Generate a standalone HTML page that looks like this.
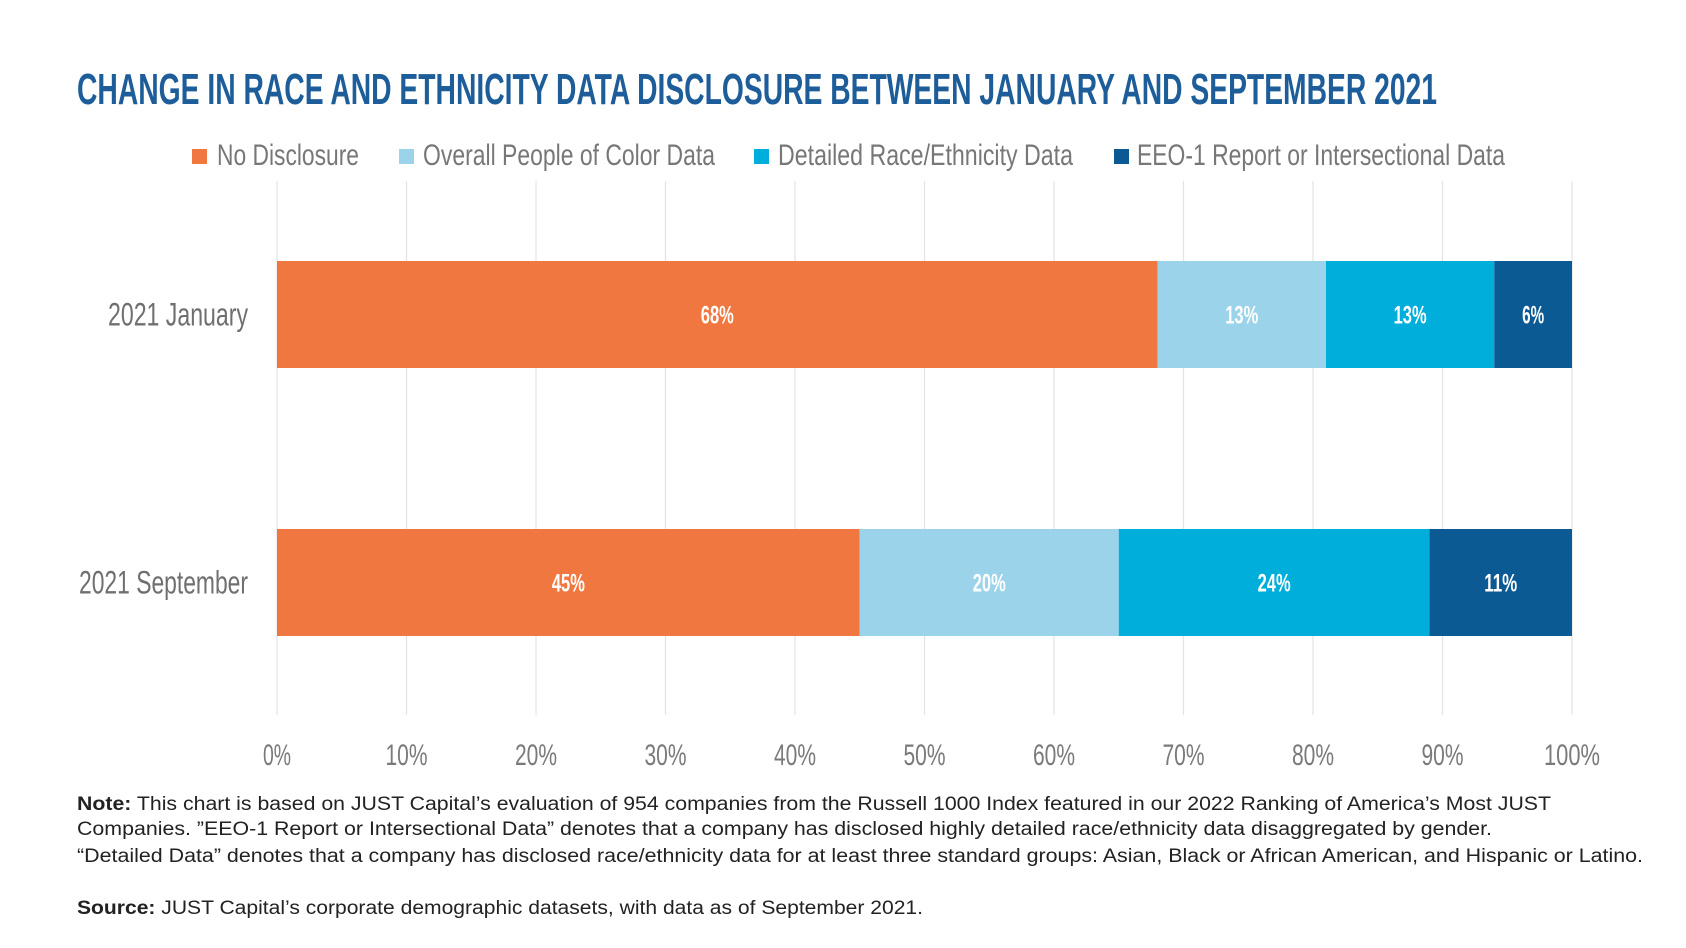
<!DOCTYPE html>
<html><head><meta charset="utf-8"><style>
html,body{margin:0;padding:0;background:#fff;}
svg{display:block;}
text{font-family:"Liberation Sans",sans-serif;}
</style></head><body>
<svg id="chart" width="1686" height="948" viewBox="0 0 1686 948">
<text x="77" y="104" font-size="44" font-weight="bold" fill="#1d5d99" textLength="1360" lengthAdjust="spacingAndGlyphs">CHANGE IN RACE AND ETHNICITY DATA DISCLOSURE BETWEEN JANUARY AND SEPTEMBER 2021</text>
<g id="legend"></g>
<g id="grid"></g>
<g id="bars"></g>
<g id="xaxis"></g>
<g id="yaxis"></g>
<g font-size="19" fill="#222">
<text x="77" y="810" textLength="1474" lengthAdjust="spacingAndGlyphs"><tspan font-weight="bold">Note:</tspan> This chart is based on JUST Capital’s evaluation of 954 companies from the Russell 1000 Index featured in our 2022 Ranking of America’s Most JUST</text>
<text x="77" y="835" textLength="1415" lengthAdjust="spacingAndGlyphs">Companies. ”EEO-1 Report or Intersectional Data” denotes that a company has disclosed highly detailed race/ethnicity data disaggregated by gender.</text>
<text x="77" y="862" textLength="1566" lengthAdjust="spacingAndGlyphs">“Detailed Data” denotes that a company has disclosed race/ethnicity data for at least three standard groups: Asian, Black or African American, and Hispanic or Latino.</text>
<text x="77" y="914" textLength="846" lengthAdjust="spacingAndGlyphs"><tspan font-weight="bold">Source:</tspan> JUST Capital’s corporate demographic datasets, with data as of September 2021.</text>
</g>
</svg>
<script>
const categories = ["2021 January", "2021 September"];
const seriesNames = ["No Disclosure", "Overall People of Color Data", "Detailed Race/Ethnicity Data", "EEO-1 Report or Intersectional Data"];
const noDisclosure = [68, 45];
const overallPOC = [13, 20];
const detailedRace = [13, 24];
const eeo1 = [6, 11];
const xTicks = [0, 10, 20, 30, 40, 50, 60, 70, 80, 90, 100];

const NS = "http://www.w3.org/2000/svg";
const colors = ["#f07840", "#9bd3ea", "#00aedb", "#0c5a94"];
const X0 = 277, X1 = 1572, GT = 181, GB = 715;
const x = v => X0 + (X1 - X0) * v / 100;
const rowTop = [261, 529], barH = 107;
const catWidths = [140, 169];
const y = i => rowTop[i];
function mk(tag, attrs, parent, txt) {
  const e = document.createElementNS(NS, tag);
  for (const k in attrs) e.setAttribute(k, attrs[k]);
  if (txt !== undefined) e.textContent = txt;
  parent.appendChild(e);
  return e;
}
const grid = document.getElementById('grid');
xTicks.forEach(t => {
  const l = mk('line', {x1: x(t), x2: x(t), y1: GT, y2: GB, stroke: '#e3e3e3', 'stroke-width': 1.2}, grid);
  
  
});
const xa = document.getElementById('xaxis');
xTicks.forEach(t => {
  const s = t + '%';
  const tx = mk('text', {x: x(t), y: 765, 'text-anchor': 'middle', 'font-size': 30, fill: '#7a7a7a', textLength: s.length * 14, lengthAdjust: 'spacingAndGlyphs'}, xa, s);
  
  
});
const series = [noDisclosure, overallPOC, detailedRace, eeo1];
const bars = document.getElementById('bars');
const ya = document.getElementById('yaxis');
categories.forEach((c, i) => {
  let cum = 0;
  series.forEach((arr, s) => {
    const v = arr[i];
    const r = mk('rect', {x: x(cum), y: y(i), width: x(cum + v) - x(cum), height: barH, fill: colors[s]}, bars);
    
    
    const lbl = v + '%';
    const t = mk('text', {x: (x(cum) + x(cum + v)) / 2, y: y(i) + barH / 2 + 9, 'text-anchor': 'middle', 'font-size': 25, 'font-weight': 'bold', fill: '#fff', textLength: lbl.length * 11, lengthAdjust: 'spacingAndGlyphs'}, bars, lbl);
    
    
    cum += v;
  });
  const ct = mk('text', {x: 248, y: y(i) + barH / 2 + 11, 'text-anchor': 'end', 'font-size': 32, fill: '#6f6f6f', textLength: catWidths[i], lengthAdjust: 'spacingAndGlyphs'}, ya, c);
  
  
});
const lg = document.getElementById('legend');
const legSq = [192, 399, 754, 1114];
const legTx = [[217, 142], [423, 292], [778, 295], [1137, 368]];
seriesNames.forEach((n, s) => {
  const r = mk('rect', {x: legSq[s], y: 149, width: 15, height: 15, fill: colors[s]}, lg);
  
  
  const t = mk('text', {x: legTx[s][0], y: 165, 'font-size': 30, fill: '#777', textLength: legTx[s][1], lengthAdjust: 'spacingAndGlyphs'}, lg, n);
  
  
});
</script>
</body></html>
